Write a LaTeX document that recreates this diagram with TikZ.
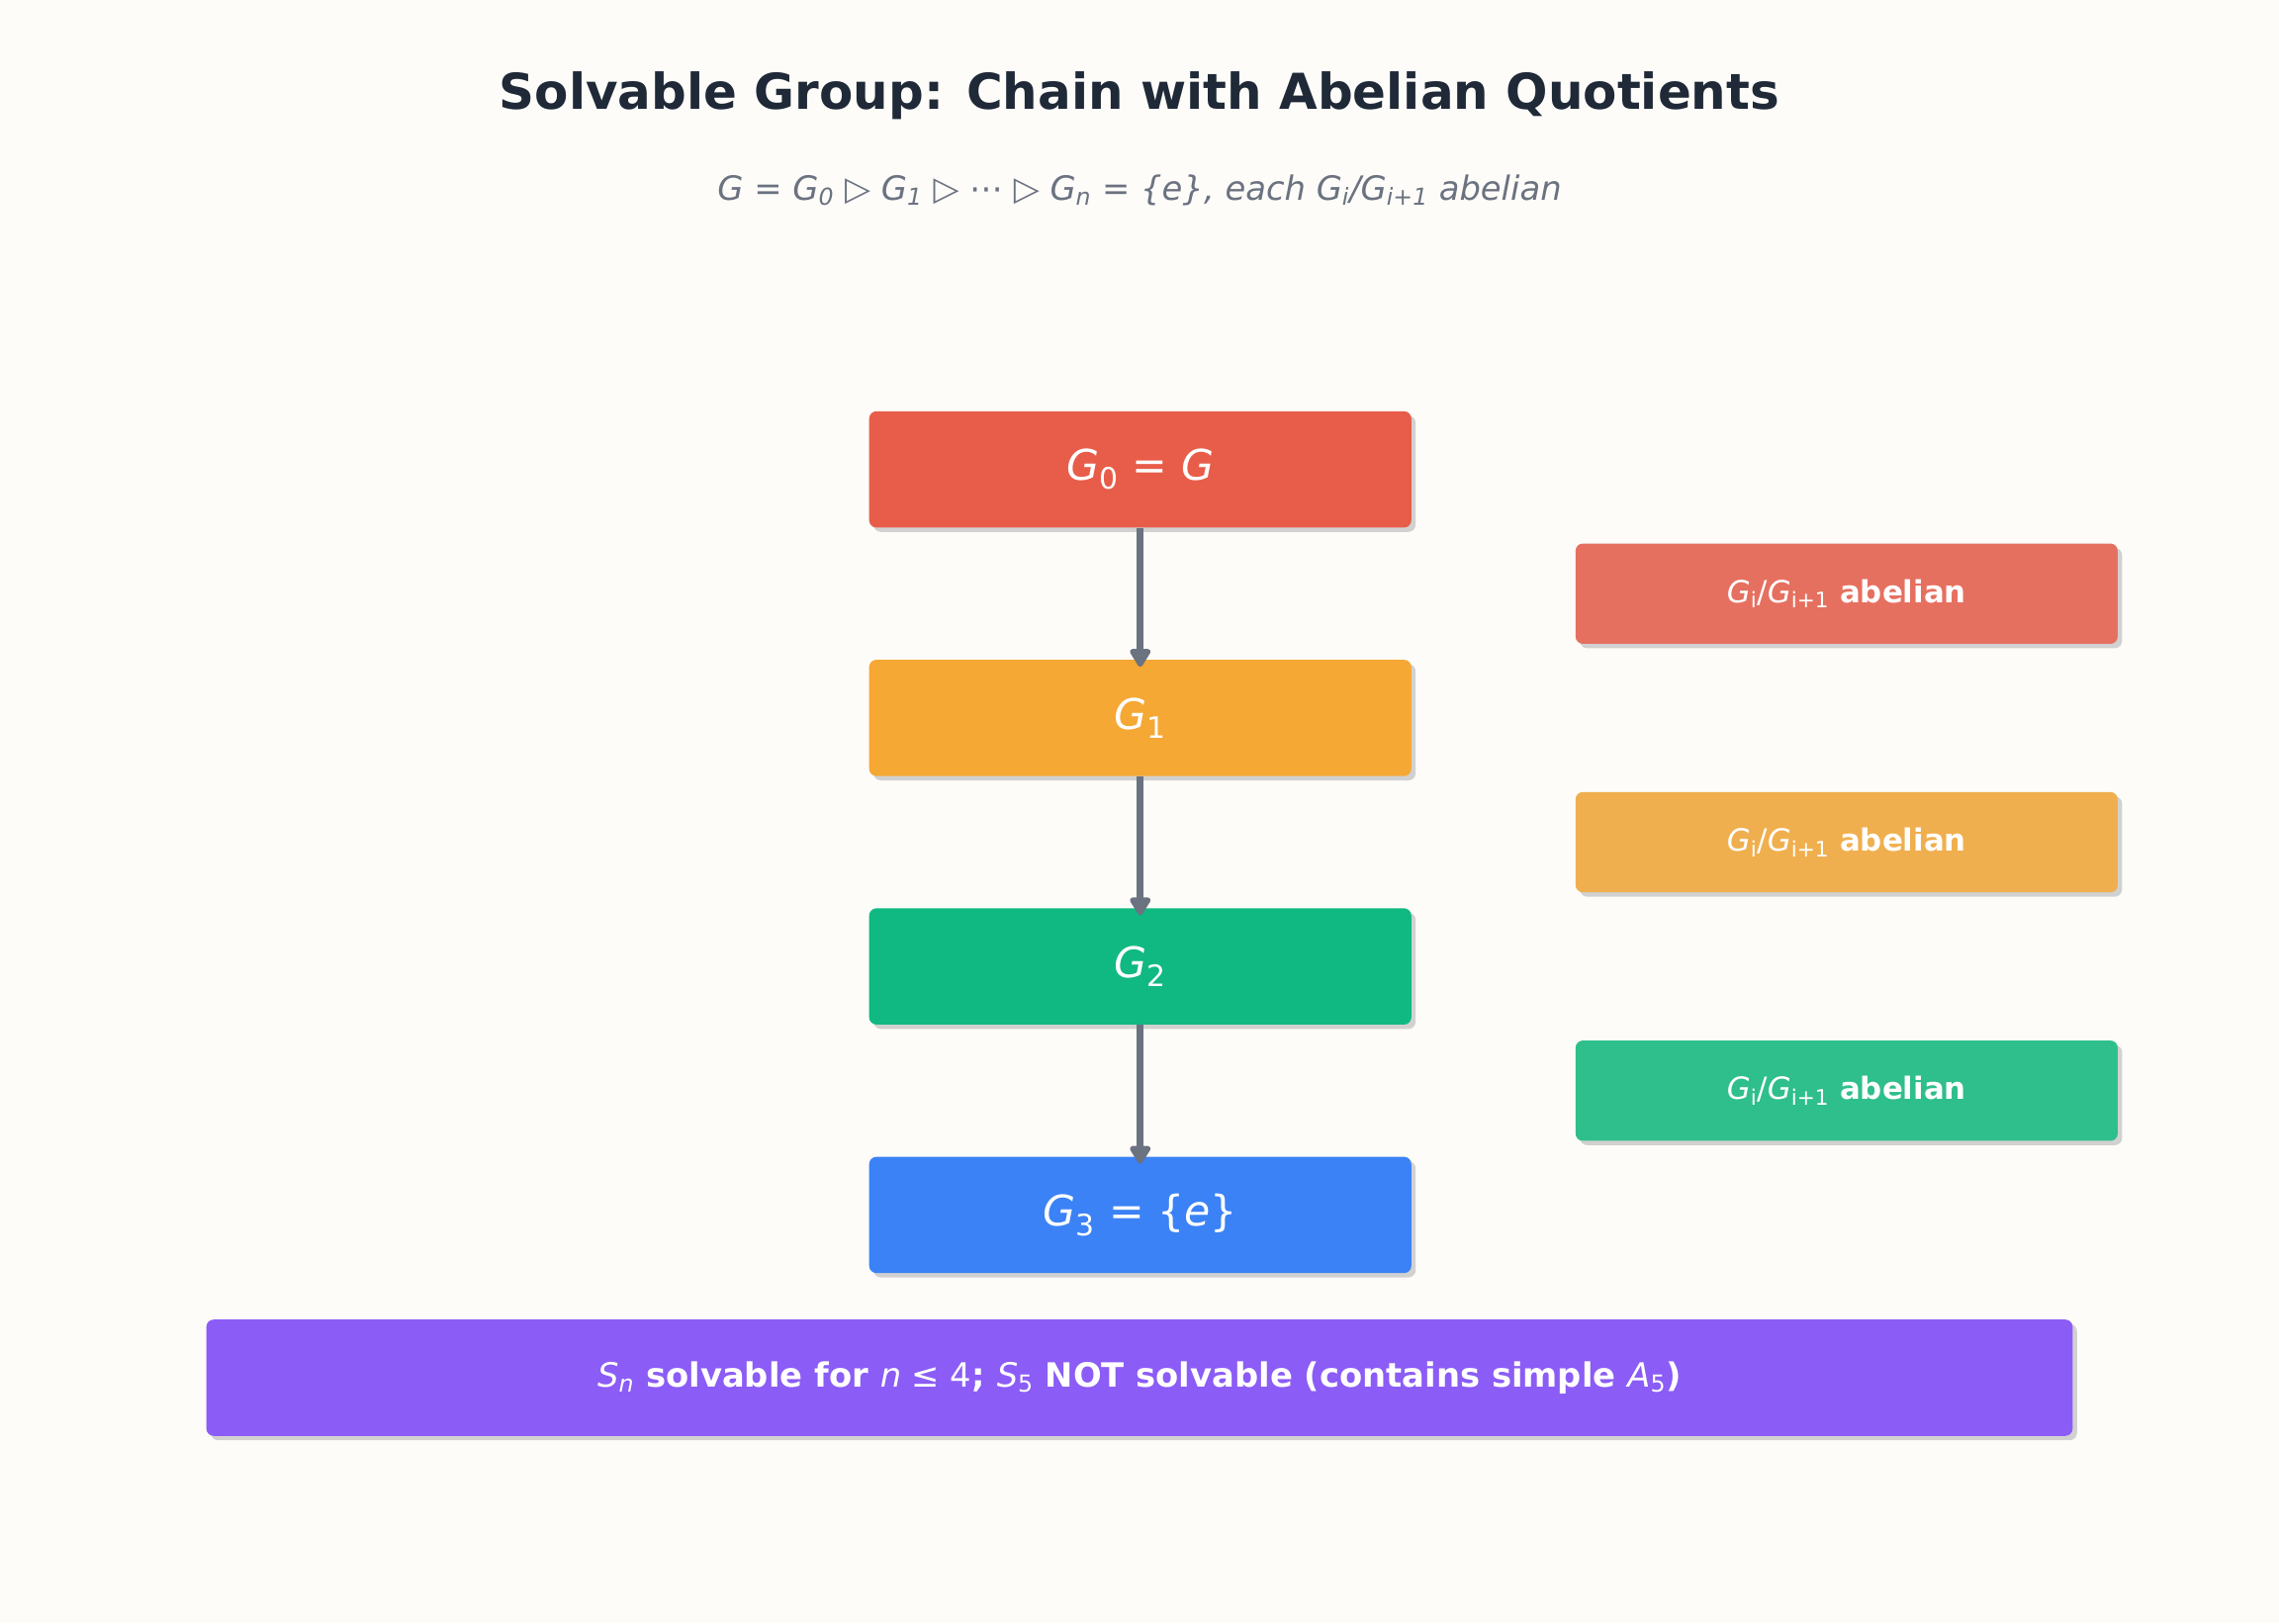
\documentclass[tikz,border=0pt]{standalone}
\usepackage{fontspec}
\setmainfont{DejaVu Sans}
\usetikzlibrary{arrows.meta}
\definecolor{bg}{HTML}{FDFCF9}
\definecolor{titlec}{HTML}{1F2937}
\definecolor{subc}{HTML}{6B7280}
\definecolor{cred}{HTML}{E85D4A}
\definecolor{corange}{HTML}{F5A834}
\definecolor{cgreen}{HTML}{10B981}
\definecolor{cblue}{HTML}{3B82F6}
\definecolor{lred}{HTML}{E67060}
\definecolor{lorange}{HTML}{F0AF4E}
\definecolor{lgreen}{HTML}{2FBF8C}
\definecolor{cpurple}{HTML}{8B5CF6}
\newcommand{\gi}[1]{\textit{G}\textsubscript{#1}}
\begin{document}
\begin{tikzpicture}[x=1pt,y=-1pt,
  box/.style={draw=none,rounded corners=5pt,text=white,inner sep=0pt,
     drop shadow/.style={}},
  mainbox/.style={box,minimum width=373pt,minimum height=80pt,font=\fontsize{29}{34}\selectfont},
  sidebox/.style={box,minimum width=373pt,minimum height=69pt,font=\fontsize{21}{25}\selectfont\bfseries},
  shad/.style={fill=black!18,rounded corners=5pt},
  arr/.style={draw=subc,line width=4.5pt,-{Triangle[length=14pt,width=16pt,round]}}]
\fill[bg] (0,0) rectangle (1568,1117);
\useasboundingbox (0,0) rectangle (1568,1117);
\node[text=titlec,font=\fontsize{34}{40}\selectfont\bfseries] (title) at (784,66) {Solvable Group: Chain with Abelian Quotients};
\node[text=subc,font=\fontsize{23}{28}\selectfont\itshape] (sub) at (784,131) {\textit{G} = \gi{0} ▷ \gi{1} ▷ ⋯ ▷ \gi{n} = \{\textit{e}\}, each \gi{i}/\gi{i+1} abelian};
% shadows
\foreach \y in {283,454,625,796}{\fill[shad] (601,\y+3) rectangle (974,\y+83);}
\foreach \y in {374,545,716}{\fill[shad] (1087,\y+3) rectangle (1460,\y+72);}
\fill[shad] (145,911) rectangle (1429,991);
\node[mainbox,fill=cred] (g0) at (784.5,323) {\gi{0} = \textit{G}};
\node[mainbox,fill=corange] (g1) at (784.5,494) {\gi{1}};
\node[mainbox,fill=cgreen] (g2) at (784.5,665) {\gi{2}};
\node[mainbox,fill=cblue] (g3) at (784.5,836) {\gi{3} = \{\textit{e}\}};
\node[sidebox,fill=lred] (q1) at (1270.5,408.5) {\textmd{\gi{i}/\gi{i+1}} abelian};
\node[sidebox,fill=lorange] (q2) at (1270.5,579.5) {\textmd{\gi{i}/\gi{i+1}} abelian};
\node[sidebox,fill=lgreen] (q3) at (1270.5,750.5) {\textmd{\gi{i}/\gi{i+1}} abelian};
\node[box,fill=cpurple,minimum width=1284pt,minimum height=80pt,font=\fontsize{23}{28}\selectfont\bfseries] (note) at (784,948)
 {\textmd{\textit{S}\textsubscript{\textit{n}}} solvable for \textmd{\textit{n} ≤ 4}; \textmd{\textit{S}\textsubscript{5}} NOT solvable (contains simple \textmd{\textit{A}\textsubscript{5}})};
\draw[arr] (g0.south) -- ([yshift=-5pt]g1.north);
\draw[arr] (g1.south) -- ([yshift=-5pt]g2.north);
\draw[arr] (g2.south) -- ([yshift=-5pt]g3.north);
\end{tikzpicture}
\end{document}
